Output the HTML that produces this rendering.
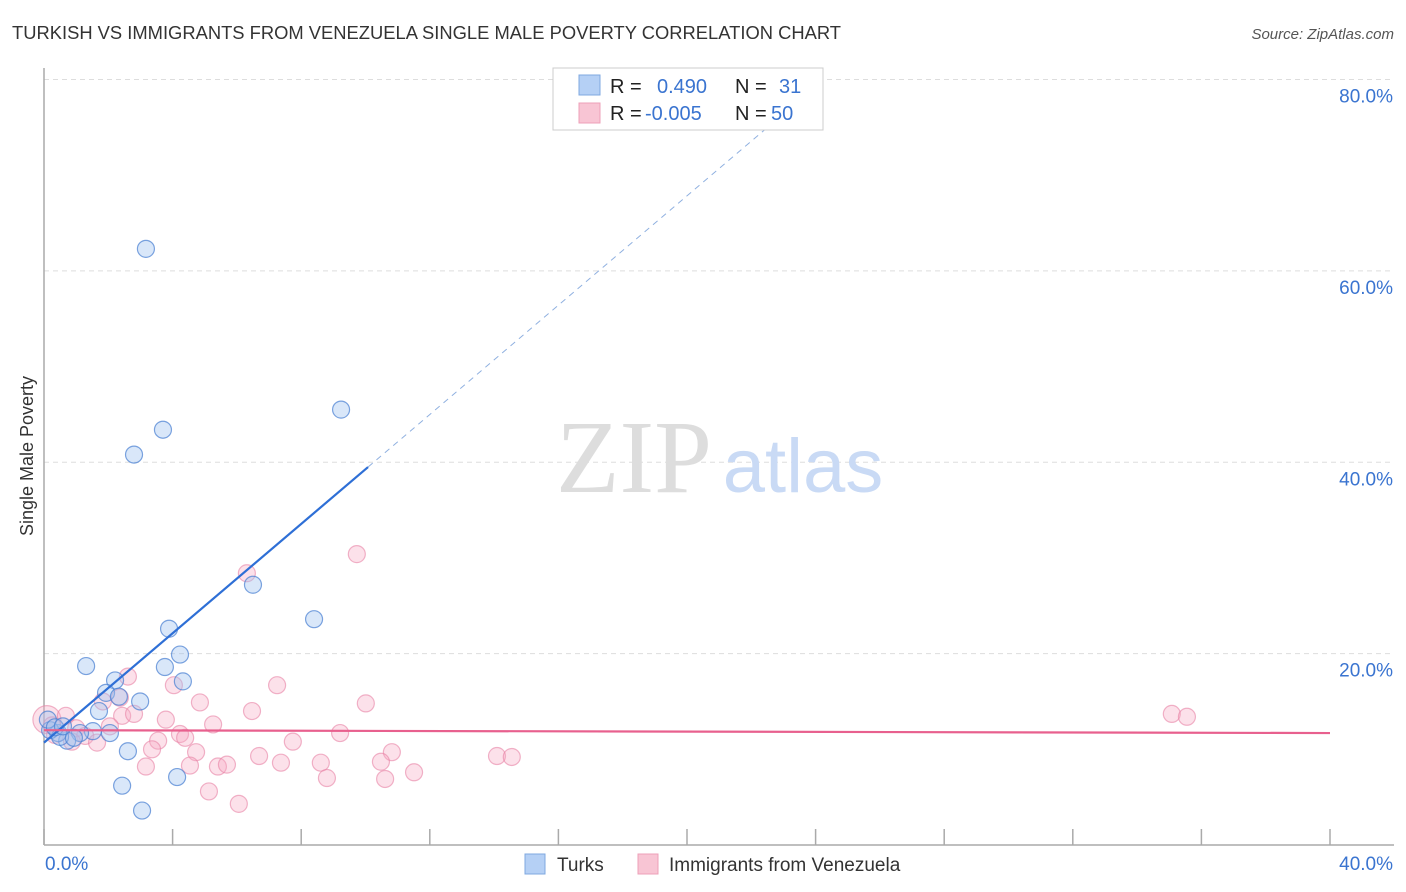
<!DOCTYPE html>
<html><head><meta charset="utf-8"><style>
body{margin:0;background:#fff;font-family:"Liberation Sans",sans-serif;}
svg{display:block}
</style></head><body>
<svg id="chart" width="1406" height="892">
<text x="12" y="39" font-size="18" fill="#333" textLength="829" lengthAdjust="spacingAndGlyphs">TURKISH VS IMMIGRANTS FROM VENEZUELA SINGLE MALE POVERTY CORRELATION CHART</text>
<text x="1394" y="39" font-size="15" fill="#555" text-anchor="end" font-style="italic">Source: ZipAtlas.com</text>
<text x="33" y="456" font-size="18" fill="#333" text-anchor="middle" transform="rotate(-90 33 456)">Single Male Poverty</text>
<g id="grid"></g>
<text x="634" y="492" font-size="104" fill="#ddd" font-family="Liberation Serif" text-anchor="middle">ZIP</text>
<text x="803" y="492" font-size="76" fill="#c9daf5" text-anchor="middle">atlas</text>
<g id="marks"></g>
<g>
<rect x="553" y="68" width="270" height="62" fill="#fff" stroke="#ccc"/>
<rect x="579" y="75" width="21" height="20" fill="#b5d0f5" stroke="#7fa8e0"/>
<rect x="579" y="103" width="21" height="20" fill="#f8c5d4" stroke="#eea0b8"/>
<text x="610" y="93" font-size="20" fill="#222">R =</text>
<text x="657" y="93" font-size="20" fill="#3a74d0">0.490</text>
<text x="735" y="93" font-size="20" fill="#222">N =</text>
<text x="779" y="93" font-size="20" fill="#3a74d0">31</text>
<text x="610" y="120" font-size="20" fill="#222">R =</text>
<text x="645" y="120" font-size="20" fill="#3a74d0">-0.005</text>
<text x="735" y="120" font-size="20" fill="#222">N =</text>
<text x="771" y="120" font-size="20" fill="#3a74d0">50</text>
</g>
<g>
<rect x="525" y="854" width="20" height="20" fill="#b5d0f5" stroke="#7fa8e0"/>
<text x="557" y="871" font-size="19" fill="#333">Turks</text>
<rect x="638" y="854" width="20" height="20" fill="#f8c5d4" stroke="#eea0b8"/>
<text x="669" y="871" font-size="19" fill="#333">Immigrants from Venezuela</text>
</g>
</svg>
<script>
const yTicks=[20,40,60,80];
const yTickLabels=["20.0%","40.0%","60.0%","80.0%"];
const xTicks=[0,4,8,12,16,20,24,28,32,36,40];
const turksX=[3.17,2.80,3.70,9.24,6.50,8.40,3.89,4.23,1.31,3.76,4.32,2.21,1.93,2.33,2.99,1.71,2.05,1.52,1.12,0.72,0.44,0.19,0.12,2.61,4.14,2.43,3.05,0.5,0.93,0.34,0.59];
const turksY=[62.3,40.8,43.4,45.5,27.2,23.6,22.6,19.9,18.7,18.6,17.1,17.2,15.9,15.5,15.0,14.0,11.7,11.9,11.7,10.9,11.7,12.0,13.1,9.8,7.1,6.2,3.6,11.3,11.2,12.3,12.4];
const venX=[0.09,0.68,0.25,0.34,1.0,1.28,1.65,0.87,1.83,2.61,2.36,2.43,2.80,2.05,4.04,3.79,4.23,4.39,3.55,3.36,4.73,3.17,4.54,5.41,5.69,4.85,5.26,6.47,6.31,7.25,7.74,6.69,7.37,5.13,6.06,8.61,8.80,9.73,10.01,9.21,10.82,10.48,10.61,11.51,14.09,14.55,35.08,35.55];
const venY=[13.1,13.5,12.5,11.5,12.2,11.4,10.7,10.8,15.0,17.6,15.4,13.5,13.7,12.4,16.7,13.1,11.6,11.2,10.9,10.0,9.7,8.2,8.3,8.2,8.4,14.9,12.6,14.0,28.4,16.7,10.8,9.3,8.6,5.6,4.3,8.6,7.0,30.4,14.8,11.7,9.7,8.7,6.9,7.6,9.3,9.2,13.7,13.4];
const turkTrend=[10.7,2.857];
const venTrend=[12.0,-0.0075];
const X=v=>44+v*(1286/40);
const Y=v=>845-v*(765.5/80);
const NS="http://www.w3.org/2000/svg";
function mk(tag,attrs,parent){const e=document.createElementNS(NS,tag);for(const k in attrs)e.setAttribute(k,attrs[k]);parent.appendChild(e);return e;}
const grid=document.getElementById('grid'),marks=document.getElementById('marks'),svg=document.getElementById('chart');
yTicks.forEach((t,i)=>{
 const l=mk('line',{x1:44,x2:1394,y1:Y(t),y2:Y(t),stroke:'#ddd','stroke-dasharray':'5,4'},grid);
 
 
 const tx=mk('text',{x:1393,y:Y(t)+23,'font-size':19,fill:'#3a74d0','text-anchor':'end'},svg);
 tx.textContent=yTickLabels[i];
 
 
});
const ax=mk('line',{x1:44,x2:44,y1:68,y2:845,stroke:'#aaa','stroke-width':1.5},grid);


const bx=mk('line',{x1:44,x2:1394,y1:845,y2:845,stroke:'#aaa','stroke-width':1.5},grid);


xTicks.forEach(t=>{
 const l=mk('line',{x1:X(t),x2:X(t),y1:829,y2:845,stroke:'#aaa','stroke-width':1.5},grid);
 
 
});
[[0,'0.0%','start',45],[40,'40.0%','end',1393]].forEach(a=>{
 const tx=mk('text',{x:a[3],y:870,'font-size':19,fill:'#3a74d0','text-anchor':a[2]},svg);
 tx.textContent=a[1];
 
 
});
venX.forEach((x,i)=>{
 const c=mk('circle',{cx:X(x),cy:Y(venY[i]),r:i==0?14:8.5,fill:'rgba(245,170,195,0.35)',stroke:'rgba(232,130,165,0.6)','stroke-width':1.2},marks);
 
 
});
turksX.forEach((x,i)=>{
 const c=mk('circle',{cx:X(x),cy:Y(turksY[i]),r:8.5,fill:'rgba(160,195,240,0.4)',stroke:'rgba(70,125,210,0.7)','stroke-width':1.2},marks);
 
 
});
const tEnd=10.08,tDash=23.2;
const tl=mk('line',{x1:X(0),y1:Y(turkTrend[0]),x2:X(tEnd),y2:Y(turkTrend[0]+turkTrend[1]*tEnd),stroke:'#2e6fd6','stroke-width':2.2},marks);


const td=mk('line',{x1:X(tEnd),y1:Y(turkTrend[0]+turkTrend[1]*tEnd),x2:X(tDash),y2:Y(turkTrend[0]+turkTrend[1]*tDash),stroke:'#8fb0e0','stroke-width':1,'stroke-dasharray':'6,5'},marks);


const vl=mk('line',{x1:X(0),y1:Y(venTrend[0]),x2:X(40),y2:Y(venTrend[0]+venTrend[1]*40),stroke:'#e8608e','stroke-width':2.2},marks);


</script>
</body></html>
